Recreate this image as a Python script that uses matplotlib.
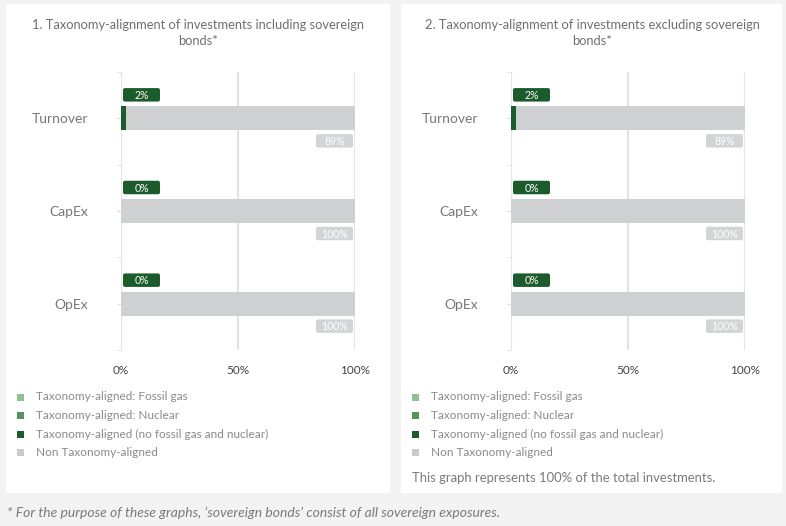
import matplotlib
matplotlib.use("Agg")
import matplotlib.pyplot as plt
from matplotlib.patches import Rectangle, FancyBboxPatch
from matplotlib.transforms import ScaledTranslation

plt.rcParams['font.family'] = ['Lato', 'DejaVu Sans']

# data
categories = ['Turnover', 'CapEx', 'OpEx']
aligned_incl = [2, 0, 0]
non_aligned_incl = [98, 100, 100]
non_aligned_labels_incl = ['89%', '100%', '100%']
aligned_excl = [2, 0, 0]
non_aligned_excl = [98, 100, 100]
non_aligned_labels_excl = ['89%', '100%', '100%']
titles = ['1. Taxonomy-alignment of investments including sovereign\nbonds*',
          '2. Taxonomy-alignment of investments excluding sovereign\nbonds*']
legend_labels = ['Taxonomy-aligned: Fossil gas', 'Taxonomy-aligned: Nuclear',
                 'Taxonomy-aligned (no fossil gas and nuclear)', 'Non Taxonomy-aligned']
legend_colors = ['#93bf95', '#56925e', '#1c5b2b', '#c9cacb']
xticks = [0, 50, 100]
xtick_labels = ['0%', '50%', '100%']

DARK = '#1c5b2b'
GREY_BAR = '#cfd0d1'
GREY_LBL = '#d3d4d5'

W, H = 786, 526
fig = plt.figure(figsize=(W / 100, H / 100), dpi=100)
fig.patch.set_facecolor('#f3f3f3')


def fx(px):
    return px / W


def fy(py):
    return 1 - py / H


# white panels
for x0, x1 in [(6, 390), (401, 782)]:
    fig.patches.append(Rectangle((fx(x0), fy(493)), fx(x1 - x0), (493 - 4) / H,
                                 transform=fig.transFigure, facecolor='white',
                                 edgecolor='none', zorder=-5))


def label_box(ax, x, y, dx, dy, text, fc):
    # box drawn in inches relative to a data point
    tr = fig.dpi_scale_trans + ScaledTranslation(x, y, ax.transData)
    w, h = 0.37, 0.135
    ax.add_patch(FancyBboxPatch((dx - w / 2, dy - h / 2), w, h,
                                boxstyle='round,pad=0,rounding_size=0.02',
                                transform=tr, facecolor=fc, edgecolor='none',
                                clip_on=False, zorder=5))
    ax.text(dx, dy - 0.005, text, transform=tr, ha='center', va='center',
            color='white', fontsize=7.6, zorder=6, clip_on=False)


panels = [
    (121, 355, aligned_incl, non_aligned_incl, non_aligned_labels_incl, titles[0], 198),
    (511, 745, aligned_excl, non_aligned_excl, non_aligned_labels_excl, titles[1], 592),
]

for x0, x1, al, na, nal, title, cx in panels:
    ax = fig.add_axes([fx(x0), fy(350), fx(x1 - x0), 278 / H])
    ax.set_zorder(2)
    ax.set_facecolor('none')
    ypos = list(range(len(categories)))
    ax.barh(ypos, al, height=0.26, color=DARK, zorder=3)
    ax.barh(ypos, na, left=al, height=0.26, color=GREY_BAR, zorder=3)
    for i in ypos:
        label_box(ax, 0, i, 0.205, 0.235, f'{al[i]}%', DARK)
        label_box(ax, 100, i, -0.205, -0.225, nal[i], GREY_LBL)
    ax.set_xlim(0, 100)
    ax.set_ylim(2.5, -0.5)
    ax.set_xticks(xticks)
    ax.set_xticklabels(xtick_labels, fontsize=8.5, color='#444444')
    ax.tick_params(axis='x', length=0, pad=11)
    ax.set_yticks(ypos)
    ax.set_yticklabels(categories, fontsize=10, color='#777777')
    shift = ScaledTranslation(0, -0.04, fig.dpi_scale_trans)
    for t in ax.get_yticklabels():
        t.set_transform(t.get_transform() + shift)
    ax.set_yticks([-0.5, 0.5, 1.5, 2.5], minor=True)
    ax.tick_params(axis='y', which='both', length=3, color='#dddddd', pad=20.5)
    ax.grid(axis='x', color='#e4e4e4', linewidth=1.6, zorder=0)
    for s in ax.spines.values():
        s.set_visible(False)
    fig.text(fx(cx), fy(33), title, ha='center', va='center', fontsize=9.3,
             color='#6f6f6f', linespacing=1.45)

# legends
for lx, tx in [(17, 36), (412, 431)]:
    for k, (lab, col) in enumerate(zip(legend_labels, legend_colors)):
        yy = 397 + k * 18.6
        fig.patches.append(Rectangle((fx(lx), fy(yy + 3.5)), fx(7), 7 / H,
                                     transform=fig.transFigure, facecolor=col,
                                     edgecolor='none'))
        fig.text(fx(tx), fy(yy), lab, ha='left', va='center', fontsize=8.5,
                 color='#8a8a8a')

fig.text(fx(412), fy(478), 'This graph represents 100% of the total investments.',
         ha='left', va='center', fontsize=9.4, color='#7a7a7a')
fig.text(fx(7), fy(513),
         "* For the purpose of these graphs, \u2018sovereign bonds\u2019 consist of all sovereign exposures.",
         ha='left', va='center', fontsize=10, color='#7a7a7a', style='italic')

fig.savefig('out.png', dpi=100, facecolor=fig.get_facecolor())
